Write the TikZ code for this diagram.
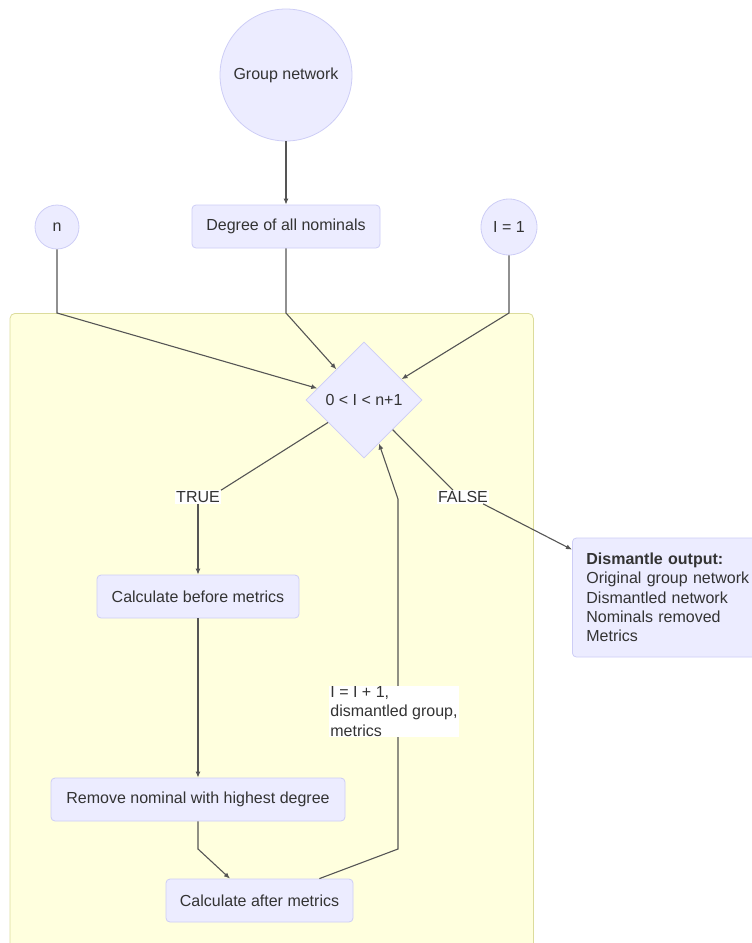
\documentclass[tikz,border=0pt]{standalone}
\usepackage{fontspec}
\setmainfont{Liberation Sans}
\usetikzlibrary{shapes.geometric,arrows.meta}
\definecolor{nodefill}{HTML}{ECECFF}
\definecolor{nodeline}{HTML}{CDCDF6}
\definecolor{clfill}{HTML}{FFFFDE}
\definecolor{clline}{HTML}{DCDC9C}
\definecolor{edgec}{HTML}{555555}
\definecolor{txt}{HTML}{333333}
\begin{document}
\begin{tikzpicture}[x=1pt,y=-1pt,
  every node/.style={text=txt, font=\fontsize{16}{19.3}\selectfont},
  boxnode/.style={draw=nodeline, fill=nodefill, rounded corners=4pt, line width=0.8pt,
    minimum height=43pt, inner sep=0pt},
  circnode/.style={circle, draw=nodeline, fill=nodefill, line width=0.8pt, inner sep=0pt},
  dianode/.style={diamond, draw=nodeline, fill=nodefill, line width=0.8pt, inner sep=0pt,
    minimum width=116pt, minimum height=116pt},
  lbl/.style={fill=white, inner sep=1pt},
  conn/.style={draw=edgec, line width=1.1pt},
  arr/.style={conn, -{Latex[length=6pt,width=5pt]}}]
\useasboundingbox (0,0) rectangle (752,943);
\clip (0,0) rectangle (752,943);
% cluster
\node[draw=clline, fill=clfill, rounded corners=5pt, line width=0.8pt, anchor=north west,
  minimum width=523.4pt, minimum height=660pt, inner sep=0pt] (cl) at (9.6,313) {};
% nodes
\node[circnode, minimum size=132pt] (gn) at (286,75) {Group network};
\node[circnode, minimum size=44pt] (n) at (57,227) {n};
\node[circnode, minimum size=56pt] (i1) at (509,227) {I = 1};
\node[boxnode, minimum width=188pt] (deg) at (286,226.5) {Degree of all nominals};
\node[dianode] (d) at (364,400) {0 < I < n+1};
\node[boxnode, minimum width=202pt] (cbm) at (198,596.5) {Calculate before metrics};
\node[boxnode, minimum width=294pt] (rem) at (198,799.5) {Remove nominal with highest degree};
\node[boxnode, minimum width=187pt] (cam) at (259.5,900.5) {Calculate after metrics};
\node[boxnode, anchor=west, minimum height=119pt, text width=190pt, align=left,
  inner xsep=14pt] (dis) at (572,597.5)
  {\textbf{Dismantle output:}\\Original group network\\Dismantled network\\Nominals removed\\Metrics};
% labels
\node[lbl] (tl) at (198,497) {TRUE};
\node[lbl] (fl) at (463,497) {FALSE};
% connectors
\draw[arr] (gn) -- (deg);
\draw[arr] (n.south) -- (57,313) -- (d.166);
\draw[arr] (deg.south) -- (286,313) -- (d.132);
\draw[arr] (i1.south) -- (509,313) -- (d.29);
\draw[conn] (d.212) -- (tl.north east);
\draw[arr] (tl.south) -- (cbm.north);
\draw[conn] (d.314) -- ([xshift=-10pt]fl.north);
\draw[arr] ([xshift=-6pt]fl.south east) -- ([yshift=-12pt]dis.north west);
\draw[arr] (cbm.south) -- (rem.north);
\draw[arr] (rem.south) -- (198,849) -- ([xshift=-29.5pt]cam.north);
\draw[arr] ([xshift=-34pt]cam.north east) -- (398,849) -- (398,499) -- (d.289);
\node[lbl, align=left] (ll) at (394,711.5) {I = I + 1,\\dismantled group,\\metrics};
\end{tikzpicture}
\end{document}
